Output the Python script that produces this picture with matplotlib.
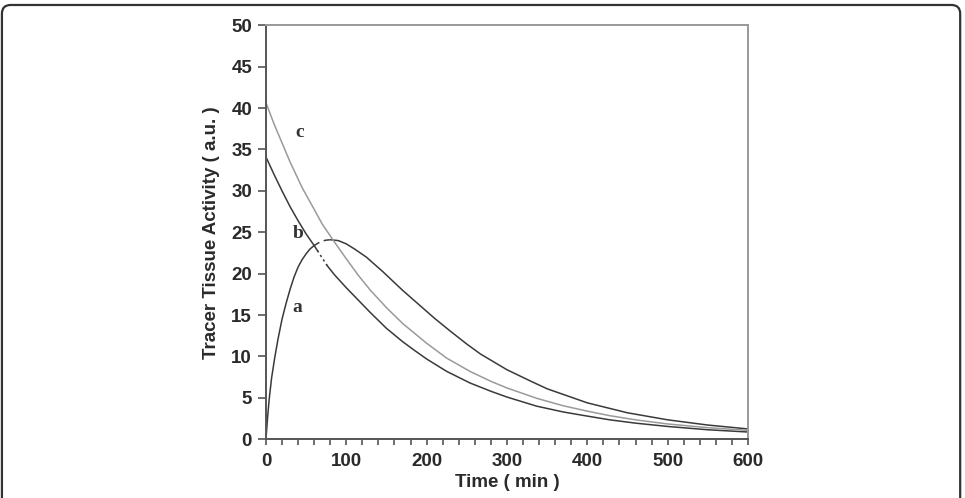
import matplotlib
matplotlib.use("Agg")
import matplotlib.pyplot as plt
from matplotlib.patches import FancyBboxPatch
from matplotlib.ticker import MultipleLocator

# ---- data ----
t_a_rise = [0, 1, 2, 4, 7, 11, 15, 20, 25, 30, 35, 40, 45, 50, 55, 60]
a_rise = [0, 1.3, 2.6, 4.8, 7.4, 9.9, 12.1, 14.5, 16.4, 18.1, 19.6, 20.8, 21.7, 22.4, 23.0, 23.4]
t_a_dash = [60, 65, 70, 75, 80]
a_dash = [23.4, 23.7, 23.95, 24.05, 24.1]
t_a_fall = [80, 90, 100, 110, 125, 146, 170, 190, 210, 229, 250, 267, 300, 330, 350, 400,
            450, 500, 550, 600]
a_fall = [24.1, 24.0, 23.6, 23.0, 22.0, 20.2, 18.0, 16.3, 14.6, 13.1, 11.5, 10.3, 8.4, 7.0,
          6.1, 4.4, 3.2, 2.35, 1.72, 1.25]

t_b1 = [0, 10, 20, 30, 40, 50, 60, 64]
b1 = [34.1, 32.0, 30.0, 28.1, 26.4, 24.8, 23.4, 22.8]
t_b_dot = [64, 70, 76]
b_dot = [22.8, 21.9, 21.0]
t_b2 = [76, 85, 100, 115, 130, 150, 170, 184, 200, 225, 254, 280, 300, 337, 370, 400, 428,
        460, 500, 550, 600]
b2 = [21.0, 19.9, 18.3, 16.8, 15.3, 13.4, 11.8, 10.8, 9.7, 8.2, 6.8, 5.8, 5.1, 4.0, 3.3, 2.8,
      2.35, 1.95, 1.55, 1.15, 0.88]

t_c = [0, 10, 20, 30, 45, 61, 70, 84, 100, 115, 130, 150, 170, 200, 225, 254, 280, 300, 337,
       370, 400, 428, 460, 500, 550, 600]
c = [40.65, 38.1, 35.8, 33.5, 30.4, 27.6, 26.0, 24.0, 21.8, 19.8, 18.0, 15.9, 14.0, 11.6, 9.8,
     8.2, 7.0, 6.2, 4.95, 4.05, 3.4, 2.85, 2.35, 1.85, 1.4, 1.08]

curve_labels = ["a", "b", "c"]
label_pos_t = [39, 40, 42]
label_pos_v = [15.9, 24.8, 37.1]

x_ticks = [0, 100, 200, 300, 400, 500, 600]
y_ticks = [0, 5, 10, 15, 20, 25, 30, 35, 40, 45, 50]

# ---- figure ----
fig = plt.figure(figsize=(9.65, 4.98), dpi=100)
frame = FancyBboxPatch((0.002, -0.2), 0.993, 1.19, boxstyle="round,pad=0,rounding_size=0.009",
                       transform=fig.transFigure, fill=False, edgecolor="#333333",
                       linewidth=1.6, mutation_aspect=965/498)
fig.patches.append(frame)

ax = fig.add_axes([0.2756, 0.1179, 0.4995, 0.8313])

dark = "#3a3a3a"
light = "#9a9a9a"
lw = 1.1
ax.plot(t_a_rise, a_rise, color=dark, lw=lw)
ax.plot(t_a_dash, a_dash, color=dark, lw=lw, ls=(0, (4, 3)))
ax.plot(t_a_fall, a_fall, color=dark, lw=lw)
ax.plot(t_b1, b1, color=dark, lw=lw)
ax.plot(t_b_dot, b_dot, color=dark, lw=lw, ls=(0, (1.5, 2)))
ax.plot(t_b2, b2, color=dark, lw=lw)
ax.plot(t_c, c, color=light, lw=lw)

for lab, tx, vy in zip(curve_labels, label_pos_t, label_pos_v):
    ax.text(tx, vy, lab, family="Liberation Serif", fontweight="bold", fontsize=14,
            color="#333333", ha="center", va="center")

ax.set_xlim(0, 600)
ax.set_ylim(0, 50)
ax.set_xticks(x_ticks)
ax.set_yticks(y_ticks)
ax.xaxis.set_minor_locator(MultipleLocator(20))
ax.tick_params(axis="x", which="both", direction="out", length=4, width=1.2, color="#555555",
               pad=6)
ax.tick_params(axis="y", which="major", direction="out", length=6, width=1.2, color="#555555",
               pad=4)
for lab in ax.get_xticklabels() + ax.get_yticklabels():
    lab.set_family("Liberation Sans")
    lab.set_fontweight("bold")
    lab.set_fontsize(13.5)
    lab.set_color("#2a2a2a")

ax.set_xlabel("Time ( min )", family="Liberation Sans", fontweight="bold", fontsize=13.5,
              color="#2a2a2a", labelpad=3)
ax.set_ylabel("Tracer Tissue Activity ( a.u. )", family="Liberation Sans", fontweight="bold",
              fontsize=13.5, color="#2a2a2a", labelpad=8)

ax.spines["left"].set_color("#555555")
ax.spines["bottom"].set_color("#555555")
ax.spines["top"].set_color("#999999")
ax.spines["right"].set_color("#999999")
for s in ax.spines.values():
    s.set_linewidth(1.4)

fig.savefig("out.png", dpi=100)
